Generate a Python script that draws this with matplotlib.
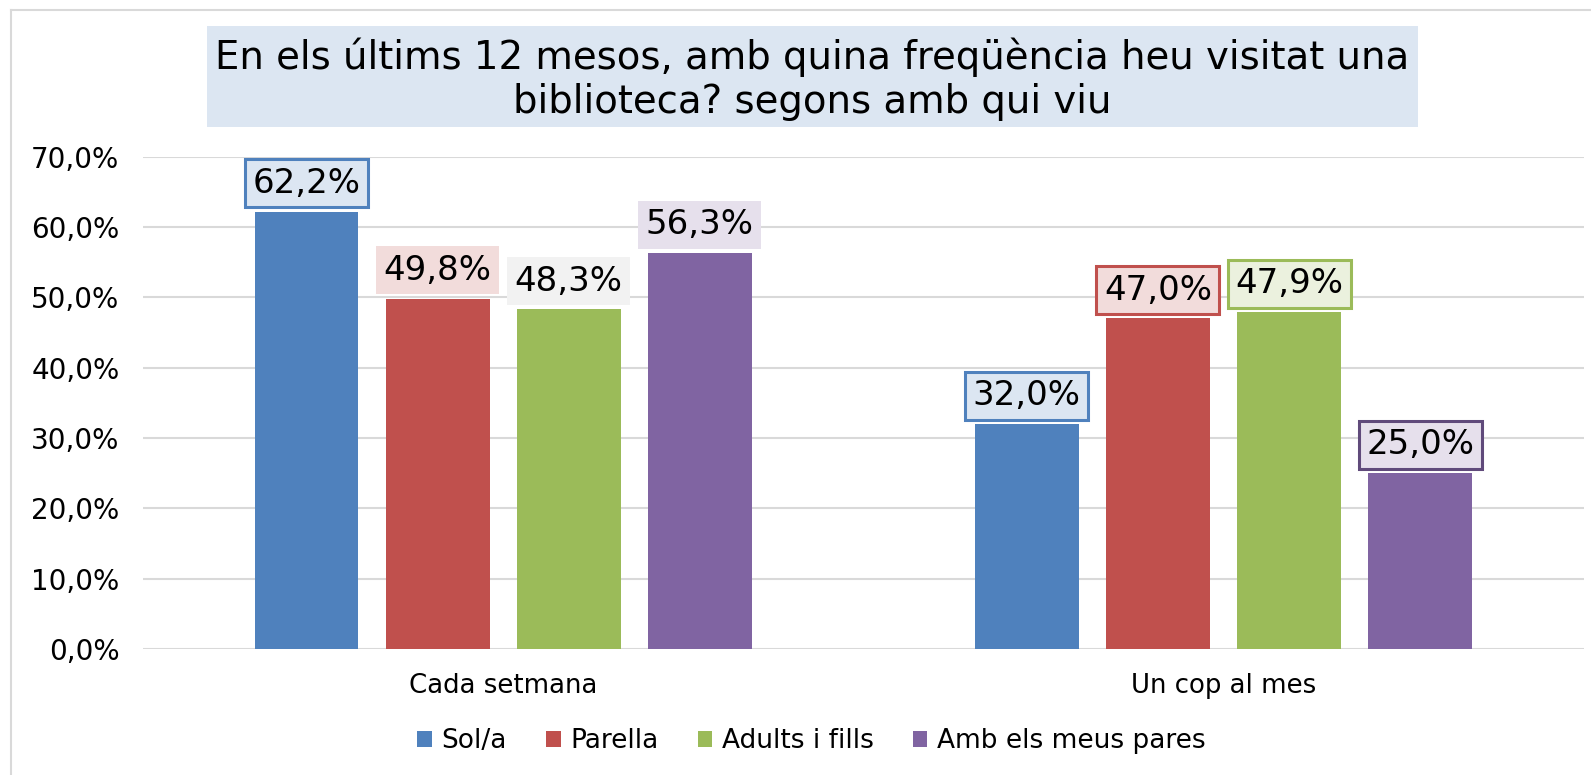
import numpy as np
from matplotlib import pyplot as plt
from matplotlib.patches import Rectangle

# データ
categories = ["Cada setmana", "Un cop al mes"]
series = ["Sol/a", "Parella", "Adults i fills", "Amb els meus pares"]
values = {
    "Sol/a": [62.2, 32.0],
    "Parella": [49.8, 47.0],
    "Adults i fills": [48.3, 47.9],
    "Amb els meus pares": [56.3, 25.0],
}
yticks = [0, 10, 20, 30, 40, 50, 60, 70]
title = "En els últims 12 mesos, amb quina freqüència heu visitat una\nbiblioteca? segons amb qui viu"

colors = ["#4f81bd", "#c0504d", "#9bbb59", "#8064a2"]
# ラベルの箱のスタイル（カテゴリ毎）
label_face = [
    ["#dce6f2", "#f2dcdb", "#f2f2f2", "#e6e0ec"],
    ["#dce6f2", "#f2dcdb", "#ebf1de", "#e6e0ec"],
]
label_edge = [
    ["#4f81bd", "none", "none", "none"],
    ["#4f81bd", "#c0504d", "#9bbb59", "#604a7b"],
]

plt.rcParams['font.family'] = ['DejaVu Sans']

fig = plt.figure(figsize=(15.91, 7.75), dpi=100)
ax = fig.add_axes([0.0899, 0.1626, 0.9055, 0.6352])

x = np.arange(len(categories))
step = 0.182
width = 0.144

for i, s in enumerate(series):
    xs = x + (i - 1.5) * step
    bars = ax.bar(xs, values[s], width=width, color=colors[i], label=s, zorder=3)
    for j, b in enumerate(bars):
        v = values[s][j]
        ax.annotate(f"{v:.1f}%".replace(".", ","),
                    xy=(b.get_x() + b.get_width() / 2, v),
                    xytext=(0, 8.5), textcoords="offset points",
                    ha="center", va="bottom", fontsize=24.5,
                    bbox=dict(boxstyle="square,pad=0.22", fc=label_face[j][i],
                              ec=label_edge[j][i], lw=2.2),
                    zorder=5)

ax.set_xlim(-0.5, 1.5)
ax.set_ylim(0, 70)
ax.set_yticks(yticks)
ax.set_yticklabels([f"{t:.1f}%".replace(".", ",") for t in yticks], fontsize=20)
ax.set_xticks(x)
ax.set_xticklabels(categories, fontsize=18.7)
ax.tick_params(axis="both", length=0)
ax.tick_params(axis="y", pad=17)
ax.tick_params(axis="x", pad=17.5)
for sp in ax.spines.values():
    sp.set_visible(False)
ax.grid(axis="y", color="#d9d9d9", linewidth=1.5, zorder=0)
ax.set_axisbelow(True)

# タイトル
fig.patches.append(Rectangle((0.1301, 0.8361), 0.7612, 0.1303, transform=fig.transFigure,
                             fc="#dce6f2", ec="none", zorder=0))
fig.text(0.5107, 0.8975, title, ha="center", va="center", fontsize=27.8, linespacing=1.22)

# 外枠
fig.add_artist(plt.Line2D([11 / 1591, 1], [1 - 10 / 775, 1 - 10 / 775], transform=fig.transFigure,
                          color="#d9d9d9", lw=1.5))
fig.add_artist(plt.Line2D([11 / 1591, 11 / 1591], [0, 1 - 10 / 775], transform=fig.transFigure,
                          color="#d9d9d9", lw=1.5))

fig.legend(loc="center", bbox_to_anchor=(0.51, 0.0439), ncol=4, frameon=False, fontsize=19,
           handlelength=0.55, handleheight=0.55, handletextpad=0.35, columnspacing=1.5)

plt.savefig("out.png", dpi=100)
plt.close()
